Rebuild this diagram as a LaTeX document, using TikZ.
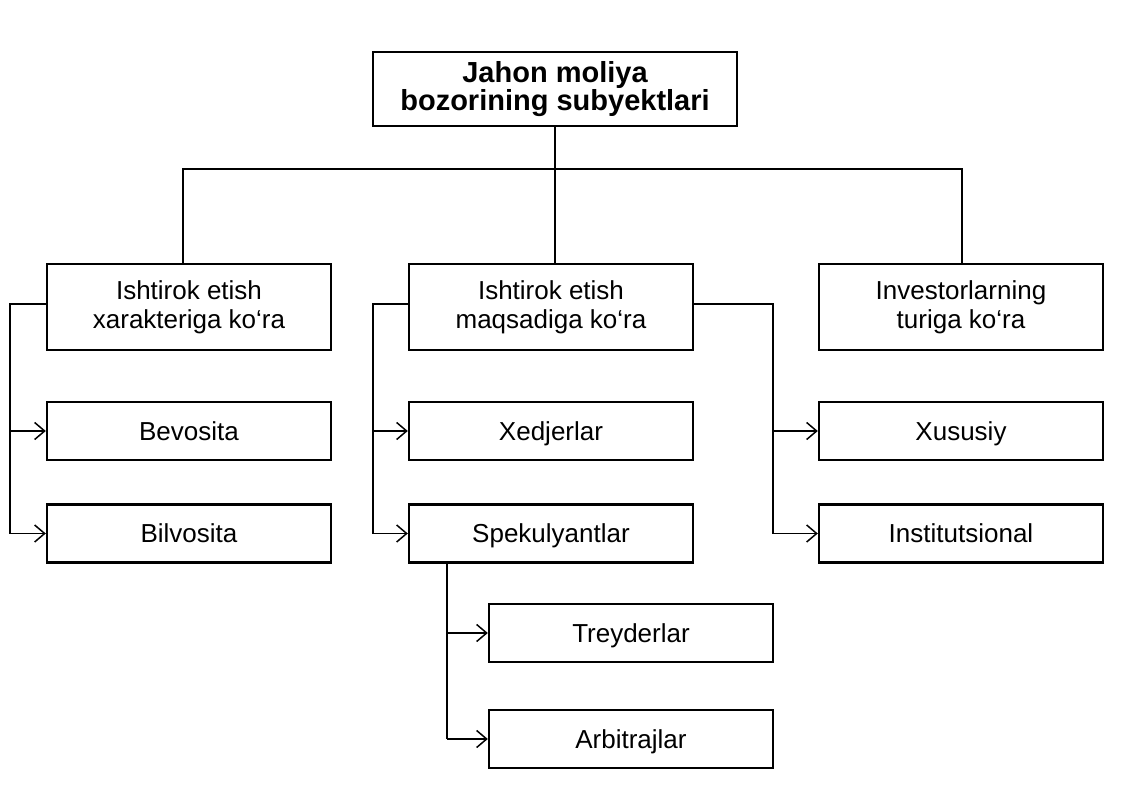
\documentclass[tikz,border=0pt]{standalone}
\usepackage{fontspec}
\setmainfont{Liberation Sans}
\usetikzlibrary{arrows.meta,calc}
\begin{document}
\begin{tikzpicture}[x=1pt,y=-1pt,
  box/.style={draw, line width=2.4pt, minimum width=284pt, inner sep=0pt, align=center,
    font=\fontsize{26}{29}\selectfont},
  bigbox/.style={box, minimum height=86pt},
  smallbox/.style={box, minimum height=58pt, text height=18.7pt, text depth=0pt},
  conn/.style={line width=2pt},
  arr/.style={line width=1.5pt, -{Straight Barb[length=10pt,width=17pt,line width=1.5pt]}}]
\useasboundingbox (0,0) rectangle (1127,810);
\fill[white] (0,0) rectangle (1127,810);
% nodes
\node[box, minimum width=364pt, minimum height=74pt,
  font=\fontsize{29}{28}\selectfont\bfseries] (top) at (555,89) {Jahon moliya\\bozorining subyektlari};
\node[bigbox] (b1) at (189,307) {Ishtirok etish\\xarakteriga ko‘ra};
\node[bigbox] (b2) at (551,307) {Ishtirok etish\\maqsadiga ko‘ra};
\node[bigbox] (b3) at (961,307) {Investorlarning\\turiga ko‘ra};
\node[smallbox] (bev) at (189,431) {Bevosita};
\node[smallbox] (bil) at (189,533.5) {Bilvosita};
\node[smallbox] (xed) at (551,431) {Xedjerlar};
\node[smallbox] (spe) at (551,533.5) {Spekulyantlar};
\node[smallbox] (xus) at (961,431) {Xususiy};
\node[smallbox] (ins) at (961,533.5) {Institutsional};
\node[smallbox] (tre) at (631,633) {Treyderlar};
\node[smallbox] (arb) at (631,739) {Arbitrajlar};
% helper coordinates
\coordinate (hl) at (0,169);
\coordinate (v1) at (183,0);
\coordinate (v3) at (962,0);
\coordinate (L1) at (10,0);
\coordinate (L2) at (373,0);
\coordinate (R2) at (773,0);
\coordinate (L3) at (447,0);
% top tree
\draw[conn] (top.south) -- (top.south |- b2.north);
\draw[conn] (v1 |- b1.north) -- (v1 |- hl) -- (v3 |- hl) -- (v3 |- b3.north);
% left group
\coordinate (b1j) at ($(b1.north west)!0.47!(b1.south west)$);
\draw[conn] (b1j) -- (L1 |- b1j) -- (L1 |- bil.west);
\draw[arr] (L1 |- bev.west) -- (bev.west);
\draw[arr] (L1 |- bil.west) -- (bil.west);
% middle group
\coordinate (b2j) at ($(b2.north west)!0.47!(b2.south west)$);
\draw[conn] (b2j) -- (L2 |- b2j) -- (L2 |- spe.west);
\draw[arr] (L2 |- xed.west) -- (xed.west);
\draw[arr] (L2 |- spe.west) -- (spe.west);
% right group
\coordinate (b2k) at ($(b2.north east)!0.47!(b2.south east)$);
\draw[conn] (b2k) -- (R2 |- b2k) -- (R2 |- ins.west);
\draw[arr] (R2 |- xus.west) -- (xus.west);
\draw[arr] (R2 |- ins.west) -- (ins.west);
% speculators group
\draw[conn] (L3 |- spe.south) -- (L3 |- arb.west);
\draw[arr] (L3 |- tre.west) -- (tre.west);
\draw[arr] (L3 |- arb.west) -- (arb.west);
\end{tikzpicture}
\end{document}
